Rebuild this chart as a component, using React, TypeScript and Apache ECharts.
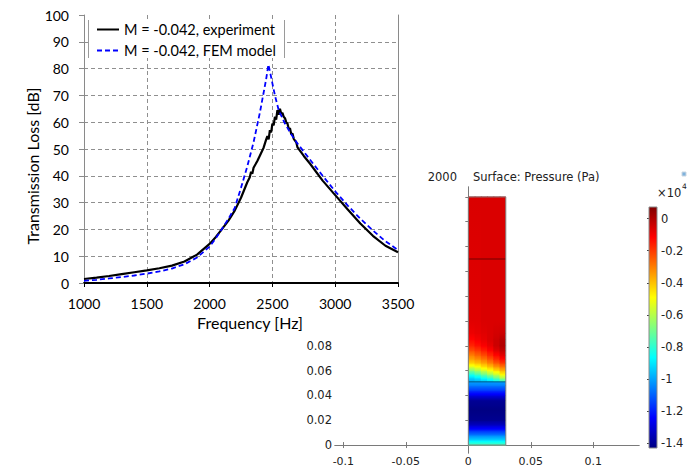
import React, { useEffect, useRef } from 'react';
import * as echarts from 'echarts';

// ---------- Transmission loss chart data ----------
const expFreq = [1000, 1100, 1200, 1300, 1400, 1500, 1600, 1700, 1800, 1900, 2000, 2050, 2100, 2150, 2200, 2250, 2300, 2320, 2330, 2340, 2350, 2380, 2400, 2430, 2450, 2460, 2470, 2480, 2490, 2500, 2510, 2520, 2530, 2540, 2550, 2560, 2570, 2580, 2590, 2600, 2610, 2620, 2630, 2640, 2650, 2660, 2670, 2690, 2700, 2750, 2800, 2900, 3000, 3100, 3200, 3300, 3400, 3500];
const expTL = [1.5, 2.0, 2.6, 3.3, 4.0, 4.7, 5.5, 6.5, 8.0, 10.6, 14.6, 17.2, 20.2, 23.3, 27.0, 31.8, 37.6, 39.5, 41.5, 40.8, 43.0, 45.5, 47.5, 50.5, 53.5, 54.8, 53.6, 57.0, 56.2, 59.5, 58.8, 62.0, 61.0, 64.5, 62.8, 65.0, 63.2, 63.5, 62.0, 61.5, 60.0, 59.5, 57.5, 57.8, 55.5, 55.8, 53.8, 52.5, 50.6, 47.4, 44.5, 38.2, 32.8, 27.4, 22.2, 17.6, 13.9, 11.5];
const femFreq = [1000, 1100, 1200, 1300, 1400, 1500, 1600, 1700, 1800, 1900, 2000, 2050, 2100, 2150, 2200, 2250, 2300, 2350, 2400, 2430, 2450, 2468, 2480, 2500, 2520, 2550, 2600, 2650, 2700, 2800, 2900, 3000, 3100, 3200, 3300, 3400, 3500];
const femTL = [0.8, 1.2, 1.7, 2.2, 2.8, 3.5, 4.3, 5.4, 7.0, 9.5, 13.6, 16.7, 20.3, 24.0, 28.0, 35.5, 43.5, 52.5, 63.5, 71.0, 76.0, 81.5, 79.0, 74.5, 70.0, 64.5, 59.5, 55.5, 52.0, 46.0, 40.0, 34.2, 28.9, 24.0, 19.6, 15.6, 12.3];
const seriesNames = ['M = -0.042, experiment', 'M = -0.042, FEM model'];

// ---------- COMSOL surface plot data ----------
const xTickValues = [-0.1, -0.05, 0, 0.05, 0.1];
const yTickValues = [0, 0.02, 0.04, 0.06, 0.08, 0.1, 0.12, 0.14, 0.16, 0.18, 0.2];
const yLabelValues = [0, 0.02, 0.04, 0.06, 0.08];
const cbLabelValues = [0, -0.2, -0.4, -0.6, -0.8, -1, -1.2, -1.4];
const CB_MIN = -1.431;
const CB_MAX = 0.073;

const colEdges = [0, 0.005, 0.01, 0.015, 0.02, 0.025, 0.03];
const upperLevels = [0.051, 0.054, 0.057, 0.06, 0.063, 0.066, 0.069, 0.072, 0.076, 0.08, 0.085, 0.09, 0.1, 0.2];
const upperCol1 = [-1.0, -0.93, -0.82, -0.68, -0.54, -0.43, -0.36, -0.31, -0.23, -0.17, -0.12, -0.09, -0.07, -0.06];
const upperCol2 = [-0.98, -0.9, -0.76, -0.62, -0.5, -0.4, -0.33, -0.27, -0.2, -0.14, -0.1, -0.08, -0.07, -0.06];
const upperCol3 = [-0.96, -0.85, -0.7, -0.56, -0.45, -0.36, -0.29, -0.23, -0.16, -0.11, -0.08, -0.07, -0.06, -0.06];
const upperCol4 = [-0.93, -0.8, -0.63, -0.5, -0.4, -0.31, -0.24, -0.18, -0.12, -0.08, -0.06, -0.06, -0.06, -0.06];
const upperCol5 = [-0.89, -0.72, -0.56, -0.44, -0.34, -0.25, -0.18, -0.13, -0.07, -0.04, -0.04, -0.05, -0.06, -0.06];
const upperCol6 = [-0.82, -0.62, -0.48, -0.38, -0.29, -0.2, -0.13, -0.08, -0.03, 0.0, -0.01, -0.04, -0.06, -0.06];
const lowerLevels = [0, 0.004, 0.008, 0.012, 0.016, 0.02, 0.028, 0.036, 0.04, 0.044, 0.048, 0.051];
const lowerVals = [-0.75, -0.92, -1.06, -1.2, -1.33, -1.41, -1.43, -1.4, -1.28, -1.16, -1.06, -1.0];
const boundaryLevels = [0.051, 0.15];
const domainWidth = 0.03;
const domainHeight = 0.2;

const JET: [number, number, number, number][] = [
  [0, 0, 0, 130],
  [0.125, 0, 0, 255],
  [0.375, 0, 255, 255],
  [0.625, 255, 255, 0],
  [0.875, 255, 0, 0],
  [1, 128, 0, 0],
];

function jet(t: number): string {
  const tt = Math.max(0, Math.min(1, t));
  for (let i = 0; i < JET.length - 1; i++) {
    const a = JET[i];
    const b = JET[i + 1];
    if (tt >= a[0] && tt <= b[0]) {
      const f = (tt - a[0]) / (b[0] - a[0]);
      const r = Math.round(a[1] + (b[1] - a[1]) * f);
      const g = Math.round(a[2] + (b[2] - a[2]) * f);
      const bl = Math.round(a[3] + (b[3] - a[3]) * f);
      return `rgb(${r},${g},${bl})`;
    }
  }
  return 'rgb(128,0,0)';
}
function colorOf(v: number): string {
  return jet((v - CB_MIN) / (CB_MAX - CB_MIN));
}
function fmt(v: number): string {
  return String(parseFloat(v.toFixed(3)));
}

export default function App() {
  const ref = useRef<HTMLDivElement>(null);
  useEffect(() => {
    if (!ref.current) return;
    const chart = echarts.init(ref.current, undefined, { renderer: 'svg' });

    const upperCols = [upperCol1, upperCol2, upperCol3, upperCol4, upperCol5, upperCol6];
    const fieldData: number[][] = [];
    for (let c = 0; c < upperCols.length; c++) {
      for (let i = 0; i < upperLevels.length - 1; i++) {
        fieldData.push([colEdges[c], colEdges[c + 1], upperLevels[i], upperLevels[i + 1], upperCols[c][i], upperCols[c][i + 1]]);
      }
    }
    for (let i = 0; i < lowerLevels.length - 1; i++) {
      fieldData.push([0, domainWidth, lowerLevels[i], lowerLevels[i + 1], lowerVals[i], lowerVals[i + 1]]);
    }

    const lato = 'Lato';
    const dv = 'DejaVu Sans';
    const gridLineStyle = { color: '#8f8f8f', type: [4, 3] as any, width: 1 };

    const option: any = {
      animation: false,
      backgroundColor: '#ffffff',
      grid: [
        { left: 84, top: 15, width: 314, height: 268, outerBoundsMode: 'none', containLabel: false },
        { left: 335, top: 187, width: 304, height: 266, outerBoundsMode: 'none', containLabel: false },
        { left: 649, top: 207, width: 8, height: 241, outerBoundsMode: 'none', containLabel: false },
      ],
      xAxis: [
        {
          gridIndex: 0, type: 'value', min: 1000, max: 3500, interval: 500, z: 10,
          axisLine: { show: true, lineStyle: { color: '#000', width: 2 } },
          axisTick: { show: true, length: 4, lineStyle: { color: '#000', width: 1 } },
          axisLabel: { fontFamily: lato, fontSize: 14, color: '#000', margin: 13, formatter: (v: number) => String(v) },
          splitLine: { show: true, showMinLine: false, showMaxLine: false, lineStyle: gridLineStyle },
          name: 'Frequency [Hz]', nameLocation: 'middle', nameGap: 29,
          nameTextStyle: { fontFamily: lato, fontSize: 16, color: '#000', padding: [0, 0, 0, 18] },
        },
        {
          gridIndex: 1, type: 'value', min: -0.1067, max: 0.1366,
          axisLine: { show: true, lineStyle: { color: '#7a7a7a', width: 1 } },
          axisTick: { show: true, length: 3, customValues: xTickValues, lineStyle: { color: '#7a7a7a' } },
          axisLabel: { customValues: xTickValues, formatter: (v: number) => fmt(v), fontFamily: dv, fontSize: 11, color: '#222', margin: 3 },
          splitLine: { show: false },
        },
        {
          gridIndex: 1, type: 'value', min: -0.1067, max: 0.1366, position: 'top',
          axisLine: { show: true, lineStyle: { color: '#7a7a7a', width: 1 } },
          axisTick: { show: true, length: 3, customValues: xTickValues, lineStyle: { color: '#7a7a7a' } },
          axisLabel: { show: false },
          splitLine: { show: false },
        },
        { gridIndex: 2, type: 'value', min: 0, max: 1, show: false },
      ],
      yAxis: [
        {
          gridIndex: 0, type: 'value', min: 0, max: 100, interval: 10, z: 10,
          axisLine: { show: true, lineStyle: { color: '#8a8a8a', width: 1 } },
          axisTick: { show: true, length: 5, lineStyle: { color: '#8a8a8a' } },
          axisLabel: { fontFamily: lato, fontSize: 14, color: '#000', margin: 15 },
          splitLine: { show: true, showMinLine: false, showMaxLine: false, lineStyle: gridLineStyle },
          name: 'Transmission Loss [dB]', nameLocation: 'middle', nameGap: 43,
          nameTextStyle: { fontFamily: lato, fontSize: 16, color: '#000', padding: [0, 34, 0, 0] },
        },
        {
          gridIndex: 0, type: 'value', min: 0, max: 100, position: 'right', z: 10,
          axisLine: { show: true, lineStyle: { color: '#8a8a8a', width: 1 } },
          axisTick: { show: false }, axisLabel: { show: false }, splitLine: { show: false },
        },
        {
          gridIndex: 1, type: 'value', min: -0.0064, max: 0.208,
          axisLine: { show: true, lineStyle: { color: '#7a7a7a', width: 1 } },
          axisTick: { show: true, length: 2, customValues: yTickValues, lineStyle: { color: '#7a7a7a' } },
          axisLabel: { customValues: yLabelValues, formatter: (v: number) => fmt(v), fontFamily: dv, fontSize: 11.5, color: '#222', margin: 3 },
          splitLine: { show: false },
        },
        {
          gridIndex: 1, type: 'value', min: -0.0064, max: 0.208, position: 'right',
          axisLine: { show: true, lineStyle: { color: '#7a7a7a', width: 1 } },
          axisTick: { show: true, inside: true, length: 3, customValues: yTickValues, lineStyle: { color: '#7a7a7a' } },
          axisLabel: { show: false },
          splitLine: { show: false },
        },
        {
          gridIndex: 2, type: 'value', min: CB_MIN, max: CB_MAX, position: 'right',
          axisLine: { show: false },
          axisTick: { show: true, inside: true, length: 2, customValues: cbLabelValues, lineStyle: { color: '#444' } },
          axisLabel: { customValues: cbLabelValues, formatter: (v: number) => fmt(v), fontFamily: dv, fontSize: 11.5, color: '#222', margin: 4 },
          splitLine: { show: false },
        },
      ],
      legend: {
        orient: 'vertical', left: 96, top: 22, padding: 0,
        itemWidth: 22, itemHeight: 14, itemGap: 6, z: 13,
        itemStyle: { opacity: 0 },
        textStyle: { fontFamily: lato, fontSize: 14.5, color: '#000' },
        data: seriesNames,
      },
      graphic: [
        { type: 'text', z: 1, x: 457, y: 177, style: { text: 'freq(1)=2000', font: `11.5px "${dv}"`, fill: '#222', textAlign: 'right', textVerticalAlign: 'middle' } },
        { type: 'text', z: 1, x: 473, y: 177, style: { text: 'Surface: Pressure (Pa)', font: `11.5px "${dv}"`, fill: '#222', textAlign: 'left', textVerticalAlign: 'middle' } },
        { type: 'rect', z: 1, shape: { x: 682, y: 172, width: 4, height: 4 }, style: { fill: '#7fb2dc', stroke: '#c9d6e2', lineWidth: 1 } },
        { type: 'text', z: 1, x: 657, y: 193, style: { text: '×10', font: `11.5px "${dv}"`, fill: '#222', textAlign: 'left', textVerticalAlign: 'middle' } },
        { type: 'text', z: 1, x: 682, y: 186, style: { text: '4', font: `7.5px "${dv}"`, fill: '#222', textAlign: 'left', textVerticalAlign: 'middle' } },
        { type: 'rect', z: 5, shape: { x: 0, y: 0, width: 427, height: 331 }, style: { fill: '#ffffff' } },
        { type: 'rect', z: 11, shape: { x: 88, y: 20, width: 196, height: 38 }, style: { fill: '#ffffff' } },
        { type: 'line', z: 11, shape: { x1: 88.5, y1: 20, x2: 88.5, y2: 58 }, style: { stroke: '#9a9a9a', lineWidth: 1 } },
        { type: 'line', z: 11, shape: { x1: 284.5, y1: 20, x2: 284.5, y2: 58 }, style: { stroke: '#9a9a9a', lineWidth: 1 } },
      ],
      series: [
        {
          name: seriesNames[0], type: 'line', xAxisIndex: 0, yAxisIndex: 0, z: 12,
          data: expFreq.map((f, i) => [f, expTL[i]]),
          symbol: 'none', showSymbol: false,
          lineStyle: { color: '#000000', width: 2.2 }, itemStyle: { color: '#000000' },
        },
        {
          name: seriesNames[1], type: 'line', xAxisIndex: 0, yAxisIndex: 0, z: 12,
          data: femFreq.map((f, i) => [f, femTL[i]]),
          symbol: 'none', showSymbol: false,
          lineStyle: { color: '#0000ff', width: 1.8, type: [5, 3] }, itemStyle: { color: '#0000ff' },
        },
        {
          type: 'custom', xAxisIndex: 1, yAxisIndex: 2, z: 2, silent: true,
          data: fieldData,
          renderItem: (params: any, api: any) => {
            const x0 = api.value(0), x1 = api.value(1), y0 = api.value(2), y1 = api.value(3);
            const v0 = api.value(4), v1 = api.value(5);
            const tl = api.coord([x0, y1]);
            const br = api.coord([x1, y0]);
            const stops: any[] = [];
            for (let k = 0; k <= 6; k++) {
              const f = k / 6;
              stops.push({ offset: f, color: colorOf(v1 + (v0 - v1) * f) });
            }
            const right = x1 >= domainWidth ? br[0] : br[0] + 1;
            return {
              type: 'rect',
              shape: { x: tl[0], y: tl[1] - 0.4, width: right - tl[0], height: br[1] - tl[1] + 0.8 },
              style: { fill: { type: 'linear', x: 0, y: 0, x2: 0, y2: 1, colorStops: stops } },
            };
          },
        },
        ...boundaryLevels.map((lv) => ({
          type: 'line', xAxisIndex: 1, yAxisIndex: 2, z: 3, silent: true,
          data: [[0, lv], [domainWidth, lv]], symbol: 'none',
          lineStyle: { color: 'rgba(0,0,0,0.32)', width: 1.5 },
        })),
        {
          type: 'line', xAxisIndex: 1, yAxisIndex: 2, z: 3, silent: true,
          data: [[0, 0], [domainWidth, 0], [domainWidth, domainHeight], [0, domainHeight], [0, 0]], symbol: 'none',
          lineStyle: { color: '#808080', width: 1 },
        },
        {
          type: 'custom', xAxisIndex: 3, yAxisIndex: 4, z: 2, silent: true,
          data: [[0, 1, CB_MIN, CB_MAX]],
          renderItem: (params: any, api: any) => {
            const tl = api.coord([api.value(0), api.value(3)]);
            const br = api.coord([api.value(1), api.value(2)]);
            const stops = JET.slice().reverse().map((s) => ({ offset: 1 - s[0], color: `rgb(${s[1]},${s[2]},${s[3]})` }));
            return {
              type: 'rect',
              shape: { x: tl[0], y: tl[1], width: br[0] - tl[0], height: br[1] - tl[1] },
              style: { fill: { type: 'linear', x: 0, y: 0, x2: 0, y2: 1, colorStops: stops }, stroke: '#8a8a8a', lineWidth: 1 },
            };
          },
        },
      ],
    };
    chart.setOption(option);
    return () => chart.dispose();
  }, []);
  return <div ref={ref} style={{ position: 'fixed', left: 0, top: 0, width: 689, height: 469, background: '#fff' }} />;
}
